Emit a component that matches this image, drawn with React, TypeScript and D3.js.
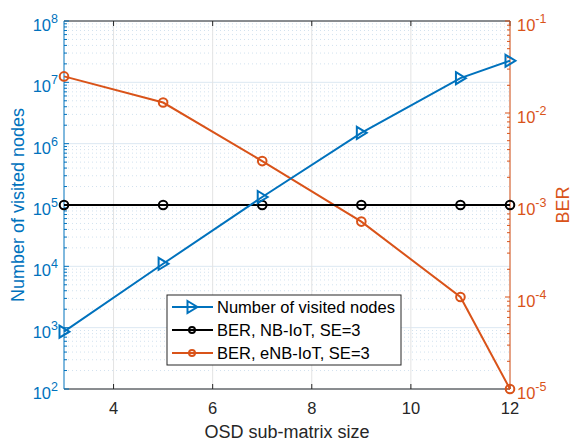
import React from "react";
import * as d3 from "d3";

const xValues = [3, 5, 7, 9, 11, 12];
const visitedNodes = [860, 1.1e4, 1.35e5, 1.5e6, 1.17e7, 2.25e7];
const berNB = [1.0e-3, 1.0e-3, 1.0e-3, 1.0e-3, 1.0e-3, 1.0e-3];
const berENB = [2.5e-2, 1.3e-2, 3.0e-3, 6.6e-4, 1.0e-4, 1.0e-5];
const xTicks = [4, 6, 8, 10, 12];
const leftExps = [2, 3, 4, 5, 6, 7, 8];
const rightExps = [-5, -4, -3, -2, -1];
const legendLabels = ["Number of visited nodes", "BER, NB-IoT, SE=3", "BER, eNB-IoT, SE=3"];

const BLUE = "#0072BD";
const ORANGE = "#D95319";
const FONT = "Liberation Sans, Arial, Helvetica, sans-serif";

export default function App() {
  const L = 64, R = 510, T = 21, B = 389;
  const x = d3.scaleLinear().domain([3, 12]).range([L, R]);
  const yL = d3.scaleLog().domain([1e2, 1e8]).range([B, T]);
  const yR = d3.scaleLog().domain([1e-5, 1e-1]).range([B, T]);

  const lineL = d3.line<number>().x((_, i) => x(xValues[i])).y((d) => yL(d));
  const lineR = d3.line<number>().x((_, i) => x(xValues[i])).y((d) => yR(d));

  const minorL: number[] = [];
  for (let e = 2; e < 8; e++) for (let m = 2; m <= 9; m++) minorL.push(m * Math.pow(10, e));
  const minorR: number[] = [];
  for (let e = -5; e < -1; e++) for (let m = 2; m <= 9; m++) minorR.push(m * Math.pow(10, e));

  const tri = (cx: number, cy: number) => {
    const s = 6;
    return `M${cx - s * 0.75},${cy - s} L${cx + s * 0.9},${cy} L${cx - s * 0.75},${cy + s} Z`;
  };

  const legX = 167, legY = 295, legW = 234, legH = 70;
  const rowY = [307, 330, 353];

  return (
    <svg width={573} height={441} style={{ position: "absolute", left: 0, top: 0, background: "#fff" }} fontFamily={FONT}>
      <rect x={0} y={0} width={573} height={441} fill="#fff" />
      {/* minor grid */}
      {minorL.map((v, i) => (
        <line key={"mg" + i} x1={L} x2={R} y1={yL(v)} y2={yL(v)} stroke="#d2e2ef" strokeWidth={1} strokeDasharray="1,3" />
      ))}
      {/* major grid */}
      {leftExps.map((e) => (
        <line key={"gy" + e} x1={L} x2={R} y1={yL(Math.pow(10, e))} y2={yL(Math.pow(10, e))} stroke="#dce8f2" strokeWidth={1} />
      ))}
      {xTicks.map((t) => (
        <line key={"gx" + t} x1={x(t)} x2={x(t)} y1={T} y2={B} stroke="#e3e3e3" strokeWidth={1} />
      ))}

      {/* box top & bottom */}
      <line x1={L} x2={R} y1={T} y2={T} stroke="#262626" strokeWidth={1} />
      <line x1={L} x2={R} y1={B} y2={B} stroke="#262626" strokeWidth={1} />
      {xTicks.map((t) => (
        <g key={"xt" + t}>
          <line x1={x(t)} x2={x(t)} y1={B} y2={B - 5} stroke="#262626" />
          <line x1={x(t)} x2={x(t)} y1={T} y2={T + 5} stroke="#262626" />
          <text x={x(t)} y={414} textAnchor="middle" fontSize={16.5} fill="#262626">{t}</text>
        </g>
      ))}
      <text x={(L + R) / 2} y={438} textAnchor="middle" fontSize={18} fill="#262626">OSD sub-matrix size</text>

      {/* left axis */}
      <line x1={L} x2={L} y1={T} y2={B} stroke={BLUE} strokeWidth={1} />
      {minorL.map((v, i) => (
        <line key={"lm" + i} x1={L} x2={L + 3} y1={yL(v)} y2={yL(v)} stroke={BLUE} />
      ))}
      {leftExps.map((e) => (
        <g key={"lt" + e}>
          <line x1={L} x2={L + 5} y1={yL(Math.pow(10, e))} y2={yL(Math.pow(10, e))} stroke={BLUE} />
          <text x={58} y={yL(Math.pow(10, e)) + 10} textAnchor="end" fill={BLUE} fontSize={16.5}>
            10<tspan fontSize={12.5} dy={-8}>{e}</tspan>
          </text>
        </g>
      ))}
      <text transform={`translate(24,${(T + B) / 2}) rotate(-90)`} textAnchor="middle" fontSize={18} fill={BLUE}>
        Number of visited nodes
      </text>

      {/* right axis */}
      <line x1={R} x2={R} y1={T} y2={B} stroke={ORANGE} strokeWidth={1} />
      {minorR.map((v, i) => (
        <line key={"rm" + i} x1={R} x2={R - 3} y1={yR(v)} y2={yR(v)} stroke={ORANGE} />
      ))}
      {rightExps.map((e) => (
        <g key={"rt" + e}>
          <line x1={R} x2={R - 5} y1={yR(Math.pow(10, e))} y2={yR(Math.pow(10, e))} stroke={ORANGE} />
          <text x={517} y={yR(Math.pow(10, e)) + 10} textAnchor="start" fill={ORANGE} fontSize={16.5}>
            10<tspan fontSize={12.5} dy={-8}>{e}</tspan>
          </text>
        </g>
      ))}
      <text transform={`translate(569,${(T + B) / 2}) rotate(-90)`} textAnchor="middle" fontSize={18} fill={ORANGE}>
        BER
      </text>

      {/* data lines */}
      <path d={lineR(berENB) || ""} fill="none" stroke={ORANGE} strokeWidth={2} />
      {berENB.map((v, i) => (
        <circle key={"oc" + i} cx={x(xValues[i])} cy={yR(v)} r={4.3} fill="none" stroke={ORANGE} strokeWidth={2} />
      ))}
      <path d={lineR(berNB) || ""} fill="none" stroke="#000" strokeWidth={2} />
      {berNB.map((v, i) => (
        <circle key={"bc" + i} cx={x(xValues[i])} cy={yR(v)} r={4.3} fill="none" stroke="#000" strokeWidth={2} />
      ))}
      <path d={lineL(visitedNodes) || ""} fill="none" stroke={BLUE} strokeWidth={2} />
      {visitedNodes.map((v, i) => (
        <path key={"bt" + i} d={tri(x(xValues[i]), yL(v))} fill="none" stroke={BLUE} strokeWidth={2} strokeLinejoin="miter" />
      ))}

      {/* legend */}
      <rect x={legX} y={legY} width={legW} height={legH} fill="#fff" stroke="#262626" strokeWidth={1} />
      {legendLabels.map((lab, i) => {
        const c = i === 0 ? BLUE : i === 1 ? "#000" : ORANGE;
        const cy = rowY[i];
        return (
          <g key={"lg" + i}>
            <line x1={172} x2={213} y1={cy} y2={cy} stroke={c} strokeWidth={2} />
            {i === 0 ? (
              <path d={tri(192, cy)} fill="none" stroke={c} strokeWidth={2} />
            ) : (
              <circle cx={192} cy={cy} r={3} fill="none" stroke={c} strokeWidth={2} />
            )}
            <text x={217} y={cy + 6} fontSize={16.5} fill="#000">{lab}</text>
          </g>
        );
      })}
    </svg>
  );
}
